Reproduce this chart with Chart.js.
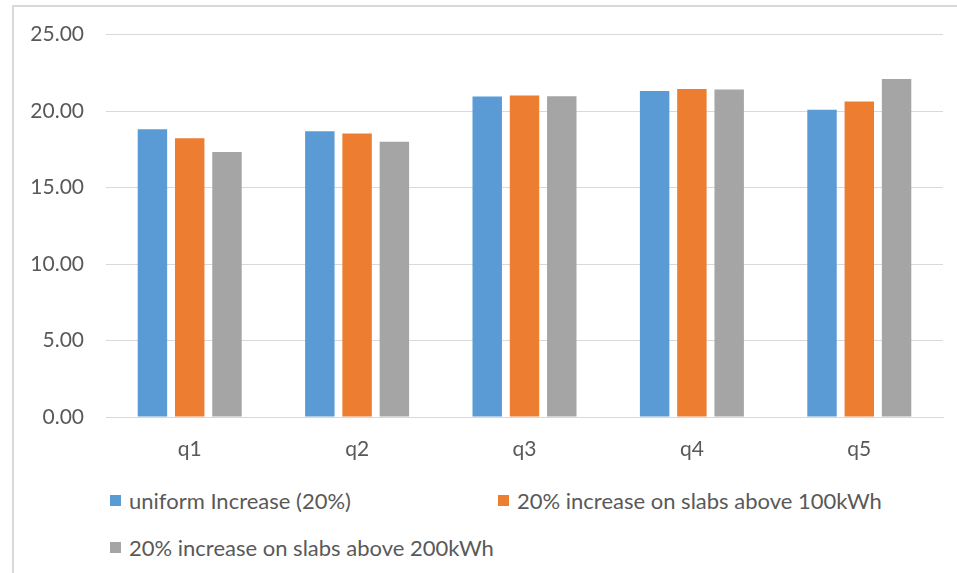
<!DOCTYPE html>
<html>
<head>
<meta charset="utf-8">
<title>Quintile bill comparison</title>
<script src="https://cdn.jsdelivr.net/npm/chart.js@4.4.1/dist/chart.umd.min.js"></script>
<style>
    html, body { margin: 0; padding: 0; background: #fff; }
    #wrap { position: relative; width: 957px; height: 573px; overflow: hidden; font-family: Lato, "Open Sans", sans-serif; }
    #frame { position: absolute; left: 12px; top: 5px; width: 960px; height: 580px;
             border-left: 2px solid #d9d9d9; border-top: 2px solid #d9d9d9; box-sizing: border-box; }
    #chartBox { position: absolute; left: 0; top: 0; width: 957px; height: 470px; }
    #legend { position: absolute; left: 110px; top: 487px; width: 840px; }
    .item { position: absolute; display: flex; align-items: center; font-size: 22px; color: #595959; white-space: nowrap; }
    .item span.sw { width: 11px; height: 11px; margin-right: 8px; }
</style>
</head>
<body>
<div id="wrap">
    <div id="frame"></div>
    <div id="chartBox"><canvas id="chart" width="957" height="470"></canvas></div>
    <div id="legend"></div>
</div>
<script>
const categories = ['q1', 'q2', 'q3', 'q4', 'q5'];
const seriesNames = [
    'uniform Increase (20%)',
    '20% increase on slabs above 100kWh',
    '20% increase on slabs above 200kWh'
];
const uniformIncrease = [18.82, 18.68, 20.95, 21.32, 20.08];
const above100kWh = [18.23, 18.54, 21.02, 21.45, 20.63];
const above200kWh = [17.32, 17.99, 20.97, 21.41, 22.09];
const yTicks = [0, 5, 10, 15, 20, 25];

const colors = ['#5b9bd5', '#ed7d31', '#a5a5a5'];
const values = [uniformIncrease, above100kWh, above200kWh];
const font = { family: 'Lato, "Open Sans", sans-serif', size: 21 };

const datasets = seriesNames.map((name, i) => ({
    label: name,
    data: values[i],
    backgroundColor: colors[i],
    categoryPercentage: 0.668,
    barPercentage: 0.79
}));

new Chart(document.getElementById('chart'), {
    type: 'bar',
    data: { labels: categories, datasets: datasets },
    options: {
        responsive: false,
        animation: false,
        layout: { padding: { left: 0, right: 14, top: 34, bottom: 0 } },
        plugins: {
            legend: { display: false },
            tooltip: { enabled: false }
        },
        scales: {
            x: {
                grid: { display: false, drawTicks: false },
                border: { color: '#d9d9d9', width: 1 },
                ticks: { color: '#595959', font: font, padding: 20 },
                afterFit: (scale) => { scale.height = 53; }
            },
            y: {
                min: yTicks[0],
                max: yTicks[yTicks.length - 1],
                afterBuildTicks: (scale) => { scale.ticks = yTicks.map(v => ({ value: v })); },
                grid: { color: '#d9d9d9', drawTicks: false },
                border: { display: false },
                ticks: {
                    color: '#595959',
                    font: font,
                    padding: 22,
                    callback: (v) => Number(v).toFixed(2)
                },
                afterFit: (scale) => { scale.width = 106; }
            }
        }
    }
});

// legend laid out in two columns below the plot
const legendEl = document.getElementById('legend');
const slots = [[0, 0], [388, 0], [0, 47]];
seriesNames.forEach((name, i) => {
    const item = document.createElement('div');
    item.className = 'item';
    item.style.left = slots[i][0] + 'px';
    item.style.top = slots[i][1] + 'px';
    item.innerHTML = '<span class="sw" style="background:' + colors[i] + '"></span>' + name;
    legendEl.appendChild(item);
});
</script>
</body>
</html>
